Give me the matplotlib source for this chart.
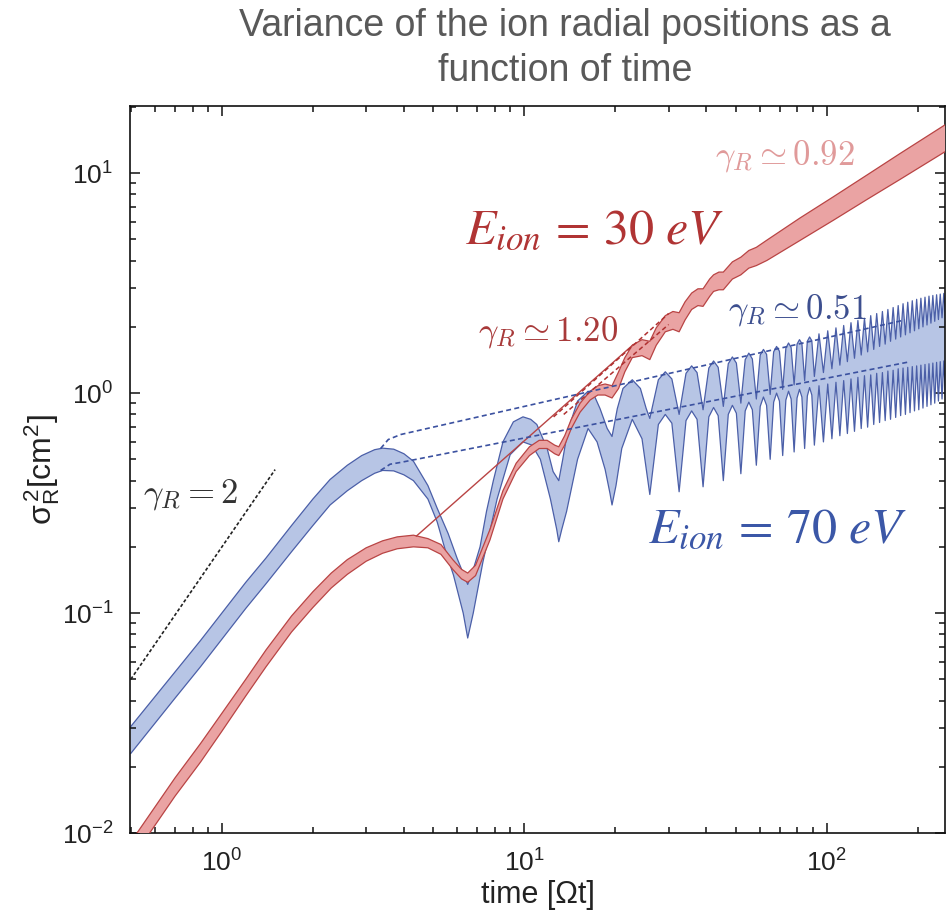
import numpy as np
import matplotlib
matplotlib.use('Agg')
import matplotlib.pyplot as plt
from matplotlib.ticker import LogLocator, NullFormatter, FuncFormatter

plt.rcParams['font.family'] = ['Liberation Sans', 'DejaVu Sans']
plt.rcParams['mathtext.fontset'] = 'custom'
plt.rcParams['mathtext.rm'] = 'Liberation Sans'
plt.rcParams['mathtext.it'] = 'Liberation Sans:italic'
plt.rcParams['mathtext.bf'] = 'Liberation Sans:bold'

# ---------------- data ----------------
# E_ion = 70 eV (blue band), early part: upper and lower edges
blue_up_x = [0.5, 0.7, 0.85, 1.0, 1.2, 1.4, 1.7, 2.0, 2.28, 2.6, 2.9, 3.2, 3.4, 3.7, 4.0, 4.3, 4.8, 5.15, 5.6,
             6.0, 6.5, 6.8, 7.14, 7.5, 7.9, 8.5, 9.2, 9.9, 10.5, 11.0, 11.9, 12.45, 13.0, 13.4, 13.9, 15.0,
             16.25, 17.0, 17.8, 18.8, 19.5, 20.3, 21.2, 22.75, 24.2, 25.3, 26.0]
blue_up_y = [0.0305, 0.054, 0.075, 0.100, 0.138, 0.178, 0.25, 0.33, 0.405, 0.47, 0.52, 0.553, 0.562, 0.556,
             0.53, 0.49, 0.38, 0.30, 0.23, 0.177, 0.135, 0.16, 0.20, 0.29, 0.40, 0.60, 0.74, 0.78, 0.76, 0.72,
             0.56, 0.44, 0.40, 0.50, 0.67, 0.92, 1.02, 0.98, 0.85, 0.69, 0.635, 0.85, 1.05, 1.15, 1.05, 0.85,
             0.767]
blue_lo_x = [0.5, 0.7, 0.85, 1.0, 1.2, 1.4, 1.7, 2.0, 2.28, 2.6, 2.9, 3.2, 3.4, 3.7, 4.0, 4.3, 4.8, 5.15, 5.5,
             5.83, 6.28, 6.5, 6.78, 7.3, 8.13, 8.98, 9.9, 10.6, 11.3, 12.2, 12.8, 13.0, 13.3, 13.8, 15.0, 16.25,
             17.4, 18.5, 19.2, 19.5, 20.1, 21.0, 22.75, 24.5, 25.5, 26.0]
blue_lo_y = [0.023, 0.041, 0.057, 0.076, 0.105, 0.136, 0.19, 0.25, 0.31, 0.36, 0.40, 0.432, 0.445, 0.443,
             0.425, 0.40, 0.33, 0.26, 0.19, 0.149, 0.10, 0.077, 0.10, 0.171, 0.33, 0.525, 0.60, 0.58, 0.50,
             0.33, 0.24, 0.211, 0.24, 0.29, 0.50, 0.69, 0.60, 0.45, 0.35, 0.31, 0.38, 0.56, 0.76, 0.62, 0.42,
             0.346]
# blue band, cyclotron oscillations: shoulders, peaks and dips of both edges
blue_osc_x = [27.75, 29.25, 30.75, 32.5, 34.25, 35.75, 37.25, 39, 40.75, 42.25, 43.75, 45.5, 47.25, 48.75,
              50.25, 52, 53.75, 55.25, 56.75, 58.5, 60.25, 61.75, 63.25, 65, 66.75, 68.25, 69.75, 71.5,
              73.25, 74.75, 76.25, 78, 79.75, 81.25, 82.75, 84.5, 86.25, 87.75, 89.25, 91,
              94.25, 97.5, 100.75, 104, 107.25, 110.5, 113.75, 117, 120.25, 123.5, 126.75, 130, 133.25,
              136.5, 139.75, 143, 146.25, 149.5, 152.75, 156, 159.25, 162.5, 165.75, 169, 172.25, 175.5,
              178.75, 182, 185.25, 188.5, 191.75, 195, 198.25, 201.5, 204.75, 208, 211.25, 214.5, 217.75,
              221, 224.25, 227.5, 230.75, 234, 237.25, 240.5, 243.75, 247]
blue_osc_up = [1.15, 1.25, 1.16, 0.80, 1.23, 1.33, 1.24, 0.84, 1.30, 1.40, 1.31, 0.87, 1.36, 1.46, 1.37, 0.90,
               1.42, 1.52, 1.43, 0.94, 1.49, 1.58, 1.50, 0.986, 1.54, 1.63, 1.55, 1.04, 1.60, 1.69, 1.61, 1.09,
               1.67, 1.75, 1.68, 1.14, 1.72, 1.80, 1.73, 1.19,
               1.86, 1.24, 1.92, 1.29, 1.98, 1.34, 2.03, 1.39, 2.09, 1.44, 2.14, 1.49, 2.19, 1.54, 2.25, 1.58,
               2.30, 1.63, 2.35, 1.67, 2.40, 1.72, 2.45, 1.76, 2.50, 1.80, 2.55, 1.84, 2.59, 1.88, 2.63, 1.92,
               2.67, 1.96, 2.70, 2.00, 2.73, 2.04, 2.76, 2.08, 2.78, 2.12, 2.80, 2.16, 2.82, 2.20, 2.84, 2.23]
blue_osc_lo = [0.72, 0.80, 0.73, 0.356, 0.75, 0.83, 0.76, 0.375, 0.78, 0.86, 0.79, 0.40, 0.80, 0.88, 0.81, 0.43,
               0.83, 0.91, 0.84, 0.47, 0.87, 0.96, 0.88, 0.50, 0.91, 1.00, 0.92, 0.52, 0.93, 1.02, 0.94, 0.54,
               0.95, 1.04, 0.96, 0.56, 0.97, 1.06, 0.98, 0.58,
               1.08, 0.60, 1.10, 0.62, 1.12, 0.64, 1.14, 0.655, 1.16, 0.67, 1.18, 0.69, 1.20, 0.70, 1.21, 0.72,
               1.23, 0.735, 1.24, 0.75, 1.26, 0.76, 1.27, 0.775, 1.29, 0.79, 1.30, 0.80, 1.31, 0.815, 1.32, 0.83,
               1.33, 0.84, 1.34, 0.855, 1.35, 0.87, 1.36, 0.885, 1.37, 0.90, 1.38, 0.92, 1.39, 0.94, 1.40, 0.95]

# E_ion = 30 eV (red band)
red_x = [0.5, 0.7, 0.85, 1.0, 1.2, 1.4, 1.7, 2.0, 2.3, 2.6, 3.0, 3.4, 3.8, 4.3, 4.8, 5.3, 5.8, 6.2, 6.5, 6.9,
         7.7, 8.5, 9.4, 10.4, 11.2, 11.9, 12.6, 13.0, 13.6, 14.3, 15.3, 16.5, 17.5, 18.5, 19.5, 20.5, 21.5,
         22.75, 24.5, 26.0, 27.3, 29.25, 31.0, 32.5, 34.0, 35.75, 37.5, 39.0, 41.0, 42.25, 44.0, 45.5, 48.75,
         52.0, 55.25, 58.5, 63.4, 81.5, 105, 136, 175, 248]
red_up = [0.0091, 0.0178, 0.0255, 0.035, 0.05, 0.068, 0.097, 0.125, 0.152, 0.175, 0.198, 0.213, 0.222, 0.226,
          0.218, 0.205, 0.175, 0.158, 0.152, 0.165, 0.24, 0.36, 0.48, 0.57, 0.61, 0.61, 0.58, 0.57, 0.64, 0.76,
          0.90, 1.02, 1.08, 1.10, 1.08, 1.25, 1.45, 1.65, 1.75, 1.72, 1.98, 2.25, 2.35, 2.32, 2.6, 2.85, 2.98,
          2.98, 3.3, 3.45, 3.55, 3.55, 3.95, 4.15, 4.45, 4.6, 4.96, 6.25, 7.8, 9.82, 12.3, 16.7]
red_lo = [0.0075, 0.0147, 0.021, 0.029, 0.042, 0.057, 0.082, 0.106, 0.13, 0.15, 0.172, 0.187, 0.196, 0.200,
          0.198, 0.185, 0.158, 0.143, 0.138, 0.148, 0.215, 0.33, 0.44, 0.52, 0.56, 0.56, 0.53, 0.52, 0.58, 0.69,
          0.82, 0.93, 0.98, 0.98, 0.95, 1.05, 1.25, 1.45, 1.48, 1.42, 1.65, 1.9, 1.95, 1.9, 2.15, 2.4, 2.5,
          2.48, 2.75, 2.9, 2.95, 2.95, 3.3, 3.45, 3.7, 3.8, 4.01, 4.94, 6.10, 7.6, 9.38, 12.6]
red_branch_x = [4.4, 22.9]
red_branch_y = [0.224, 1.66]
red_fit1_x = [12.5, 30.0]
red_fit1_y = [0.78, 2.30]
red_fit2_x = [13.5, 30.0]
red_fit2_y = [0.80, 2.05]

# dashed guide lines of the blue oscillation envelope
blue_fit_up_x = [3.35, 3.55, 3.9, 70.1, 181]
blue_fit_up_y = [0.56, 0.615, 0.648, 1.60, 2.15]
blue_fit_lo_x = [3.35, 3.6, 3.9, 189]
blue_fit_lo_y = [0.445, 0.475, 0.484, 1.39]

# gamma_R = 2 reference slope
ref_x = [0.5, 1.5]
ref_y = [0.05, 0.449]

# ---------------- figure ----------------
fig = plt.figure(figsize=(9.46, 9.21), dpi=100)
ax = fig.add_axes([130 / 946, 88 / 921, 815 / 946, 727 / 921])
ax.set_xscale('log')
ax.set_yscale('log')
ax.set_xlim(0.497, 246)
ax.set_ylim(0.01, 20.2)

BLUE_FILL = '#b7c5e5'
BLUE_EDGE = '#4b5fa8'
RED_FILL = '#eaa3a3'
RED_EDGE = '#b94444'

# blue band
bux = np.r_[blue_up_x, blue_osc_x]
buy = np.r_[blue_up_y, blue_osc_up]
blx = np.r_[blue_lo_x, blue_osc_x]
bly = np.r_[blue_lo_y, blue_osc_lo]
ax.fill(np.r_[bux, blx[::-1]], np.r_[buy, bly[::-1]], fc=BLUE_FILL, ec='none', zorder=1)
ax.plot(bux, buy, color=BLUE_EDGE, lw=0.9, zorder=2)
ax.plot(blx, bly, color=BLUE_EDGE, lw=0.9, zorder=2)

# red band
rx = np.asarray(red_x)
ax.fill(np.r_[rx, rx[::-1]], np.r_[red_up, red_lo[::-1]], fc=RED_FILL, ec='none', zorder=3)
ax.plot(rx, red_up, color=RED_EDGE, lw=0.9, zorder=4)
ax.plot(rx, red_lo, color=RED_EDGE, lw=0.9, zorder=4)
ax.plot(red_branch_x, red_branch_y, color=RED_EDGE, lw=1.0, zorder=4)
ax.plot(red_fit1_x, red_fit1_y, color='#b03030', lw=1.1, ls=(0, (3, 2)), zorder=5)
ax.plot(red_fit2_x, red_fit2_y, color='#b03030', lw=1.1, ls=(0, (3, 2)), zorder=5)

# blue dashed envelope lines
ax.plot(blue_fit_up_x, blue_fit_up_y, color='#3b51a0', lw=1.2, ls=(0, (3, 2)), zorder=5)
ax.plot(blue_fit_lo_x, blue_fit_lo_y, color='#3b51a0', lw=1.2, ls=(0, (3, 2)), zorder=5)

# reference slope
ax.plot(ref_x, ref_y, color='#222222', lw=1.2, ls=(0, (2, 1.3)), zorder=5)

# ---------------- annotations ----------------
def atext(px, py, s, **kw):
    ax.text((px - 130) / 815, (833 - py) / 727, s, transform=ax.transAxes,
            ha='left', va='baseline', **kw)

atext(465, 243, r'$E_{ion}\,=\,30\ eV$', fontsize=36, color='#b03434', math_fontfamily='stix')
atext(648, 542, r'$E_{ion}\,=\,70\ eV$', fontsize=36, color='#3b57a7', math_fontfamily='stix')
atext(478, 340, r'$\gamma_R\simeq 1.20$', fontsize=25, color='#a83a3a', math_fontfamily='cm')
atext(715, 164, r'$\gamma_R\simeq 0.92$', fontsize=25, color='#e09a9a', math_fontfamily='cm')
atext(728, 318, r'$\gamma_R\simeq 0.51$', fontsize=25, color='#3d4f8f', math_fontfamily='cm')
atext(143, 502, r'$\gamma_R = 2$', fontsize=25, color='#333333', math_fontfamily='cm')

# ---------------- axes styling ----------------
ax.xaxis.set_major_locator(LogLocator(base=10, numticks=10))
ax.yaxis.set_major_locator(LogLocator(base=10, numticks=10))
ax.xaxis.set_minor_locator(LogLocator(base=10, subs=np.arange(2, 10), numticks=20))
ax.yaxis.set_minor_locator(LogLocator(base=10, subs=np.arange(2, 10), numticks=20))
fmt = FuncFormatter(lambda v, p: r'$\mathregular{10^{%d}}$' % int(round(np.log10(v))))
ax.xaxis.set_major_formatter(fmt)
ax.yaxis.set_major_formatter(fmt)
ax.xaxis.set_minor_formatter(NullFormatter())
ax.yaxis.set_minor_formatter(NullFormatter())
ax.tick_params(which='both', direction='in', top=True, right=True, color='#111111', width=1.1)
ax.tick_params(which='major', length=7, labelsize=19, pad=12, labelcolor='#222222')
ax.tick_params(which='minor', length=4.5)
for s in ax.spines.values():
    s.set_linewidth(1.2)
    s.set_color('#111111')

ax.set_xlabel('time [Ωt]', fontsize=22, color='#222222', labelpad=2)
ax.set_ylabel(r'$\mathregular{\sigma_R^{\,2}[cm^2]}$', fontsize=23, color='#222222', labelpad=0)

fig.text(565 / 946, 1 - 26 / 921, 'Variance of the ion radial positions as a', ha='center', va='center',
         fontsize=27, color='#595959')
fig.text(565 / 946, 1 - 71 / 921, 'function of time', ha='center', va='center',
         fontsize=27, color='#595959')

fig.savefig('out.png', dpi=100)
